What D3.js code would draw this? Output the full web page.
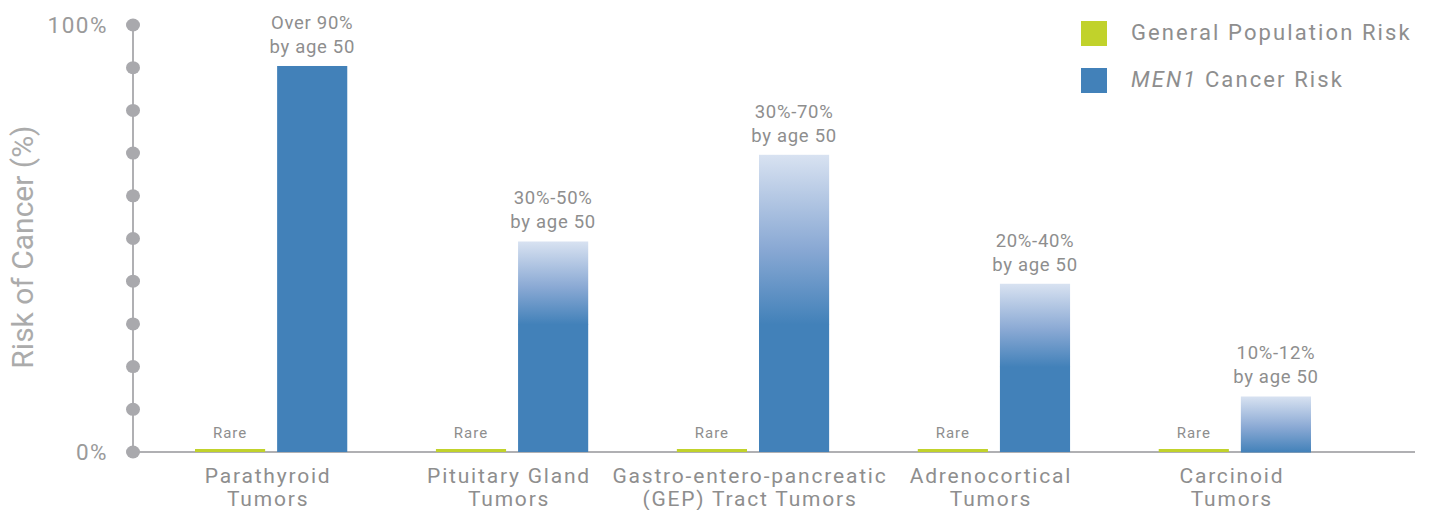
<!DOCTYPE html>
<html lang="en">
  <head>
    <meta charset="utf-8">
    <title>MEN1 Cancer Risk</title>
    <script src="https://d3js.org/d3.v7.js"></script>
    <style>
      body { margin: 0; background: #fff; }
      text { font-family: Roboto, "Liberation Sans", sans-serif; }
    </style>
  </head>

  <body>
    <svg></svg>

  <script>

// data

  const categories = [["Parathyroid", "Tumors"],
                      ["Pituitary Gland", "Tumors"],
                      ["Gastro-entero-pancreatic", "(GEP) Tract Tumors"],
                      ["Adrenocortical", "Tumors"],
                      ["Carcinoid", "Tumors"]];
  const generalRisk = [0.7, 0.7, 0.7, 0.7, 0.7];
  const generalLabels = ["Rare", "Rare", "Rare", "Rare", "Rare"];
  const men1Solid = [90.4, 30, 30, 20, 0];
  const men1Top = [90.4, 49.3, 69.6, 39.4, 13];
  const men1Labels = [["Over 90%", "by age 50"],
                      ["30%-50%", "by age 50"],
                      ["30%-70%", "by age 50"],
                      ["20%-40%", "by age 50"],
                      ["10%-12%", "by age 50"]];
  const yTicks = [0, 10, 20, 30, 40, 50, 60, 70, 80, 90, 100];
  const yTickLabels = {0: "0%", 100: "100%"};
  const series = ["General Population Risk", "MEN1 Cancer Risk"];

  const w = 1432;
  const h = 510;
  const green = "#c1d22b";
  const blue = "#4281b9";
  const grey = "#8e8e8e";

  const svg = d3.select("svg")
      .attr("width", w)
      .attr("height", h);

  const names = categories.map(d => d.join(" "));

  const xScale = d3.scaleBand()
      .domain(names)
      .range([195, 1311])
      .paddingInner(0.368)
      .paddingOuter(0);

  const subScale = d3.scaleBand()
      .domain(series)
      .range([0, xScale.bandwidth()])
      .paddingInner(0.146);

  const yScale = d3.scaleLinear()
      .domain([0, 100])
      .range([452, 25]);

// gradient for the ranges

  const grad = svg.append("defs").append("linearGradient")
      .attr("id", "rangeGrad")
      .attr("x1", 0).attr("y1", 0)
      .attr("x2", 0).attr("y2", 1);
  grad.append("stop").attr("offset", "0%").attr("stop-color", "#d8e2f1");
  grad.append("stop").attr("offset", "55%").attr("stop-color", "#8aa9d4");
  grad.append("stop").attr("offset", "100%").attr("stop-color", blue);

// axes

  svg.append("line")
      .attr("x1", 133).attr("x2", 1415)
      .attr("y1", yScale(0)).attr("y2", yScale(0))
      .attr("stroke", "#b0b0b3")
      .attr("stroke-width", 2);

  svg.append("line")
      .attr("x1", 133).attr("x2", 133)
      .attr("y1", yScale(0)).attr("y2", yScale(100))
      .attr("stroke", "#b0b0b3")
      .attr("stroke-width", 2);

  svg.selectAll(".dot")
    .data(yTicks)
    .enter().append("ellipse")
      .attr("class", "dot")
      .attr("cx", 133)
      .attr("cy", d => yScale(d))
      .attr("rx", 7)
      .attr("ry", 6.5)
      .attr("fill", "#a9a9ad");

  svg.selectAll(".ytick")
    .data(yTicks.filter(d => yTickLabels[d]))
    .enter().append("text")
      .attr("class", "ytick")
      .attr("x", 108)
      .attr("y", d => yScale(d) + 8)
      .attr("text-anchor", "end")
      .attr("font-size", 22.5)
      .attr("letter-spacing", 1.5)
      .attr("fill", "#9a9a9a")
      .text(d => yTickLabels[d]);

  svg.append("text")
      .attr("transform", `translate(33, ${yScale(48)}) rotate(-90)`)
      .attr("text-anchor", "middle")
      .attr("font-size", 30)
      .attr("fill", "#ababab")
      .text("Risk of Cancer (%)");

// bars

  const groups = svg.selectAll(".grp")
    .data(names)
    .enter().append("g")
      .attr("class", "grp")
      .attr("transform", d => `translate(${xScale(d)}, 0)`);

  groups.append("rect")
      .attr("x", subScale(series[0]))
      .attr("y", (d, i) => yScale(generalRisk[i]))
      .attr("width", subScale.bandwidth())
      .attr("height", (d, i) => yScale(0) - yScale(generalRisk[i]))
      .attr("fill", green);

  groups.append("text")
      .attr("x", subScale(series[0]) + subScale.bandwidth() / 2)
      .attr("y", (d, i) => yScale(generalRisk[i]) - 11)
      .attr("text-anchor", "middle")
      .attr("font-size", 15)
      .attr("letter-spacing", 1)
      .attr("fill", grey)
      .text((d, i) => generalLabels[i]);

  groups.append("rect")
      .attr("x", subScale(series[1]))
      .attr("y", (d, i) => yScale(men1Solid[i]))
      .attr("width", subScale.bandwidth())
      .attr("height", (d, i) => yScale(0) - yScale(men1Solid[i]))
      .attr("fill", blue);

  groups.filter((d, i) => men1Top[i] > men1Solid[i])
    .append("rect")
      .attr("x", subScale(series[1]))
      .attr("y", d => yScale(men1Top[names.indexOf(d)]))
      .attr("width", subScale.bandwidth())
      .attr("height", d => {
        const i = names.indexOf(d);
        return yScale(men1Solid[i]) - yScale(men1Top[i]) + 0.5;
      })
      .attr("fill", "url(#rangeGrad)");

  const valLabels = groups.append("text")
      .attr("text-anchor", "middle")
      .attr("font-size", 18.5)
      .attr("letter-spacing", 0.7)
      .attr("fill", grey);

  valLabels.append("tspan")
      .attr("x", subScale(series[1]) + subScale.bandwidth() / 2)
      .attr("y", (d, i) => yScale(men1Top[i]) - 37)
      .text((d, i) => men1Labels[i][0]);

  valLabels.append("tspan")
      .attr("x", subScale(series[1]) + subScale.bandwidth() / 2)
      .attr("y", (d, i) => yScale(men1Top[i]) - 13)
      .text((d, i) => men1Labels[i][1]);

// category labels

  const catLabels = svg.selectAll(".cat")
    .data(categories)
    .enter().append("text")
      .attr("class", "cat")
      .attr("text-anchor", "middle")
      .attr("font-size", 21)
      .attr("letter-spacing", 1.8)
      .attr("fill", grey);

  catLabels.append("tspan")
      .attr("x", (d, i) => xScale(names[i]) + xScale.bandwidth() / 2 - 3)
      .attr("y", 483)
      .text(d => d[0]);

  catLabels.append("tspan")
      .attr("x", (d, i) => xScale(names[i]) + xScale.bandwidth() / 2 - 3)
      .attr("y", 506)
      .text(d => d[1]);

// legend

  const legend = svg.selectAll(".leg")
    .data(series)
    .enter().append("g")
      .attr("class", "leg")
      .attr("transform", (d, i) => `translate(1081, ${21 + i * 47})`);

  legend.append("rect")
      .attr("width", 26)
      .attr("height", 25)
      .attr("fill", (d, i) => i === 0 ? green : blue);

  const legText = legend.append("text")
      .attr("x", 50)
      .attr("y", 19)
      .attr("font-size", 22)
      .attr("letter-spacing", 2.1)
      .attr("fill", grey);

  legText.filter((d, i) => i === 0).text(d => d);

  legText.filter((d, i) => i === 1).each(function(d) {
    const parts = d.split(" ");
    d3.select(this).append("tspan")
        .attr("font-style", "italic")
        .text(parts[0]);
    d3.select(this).append("tspan")
        .text(" " + parts.slice(1).join(" "));
  });

    </script>

  </body>

</html>
